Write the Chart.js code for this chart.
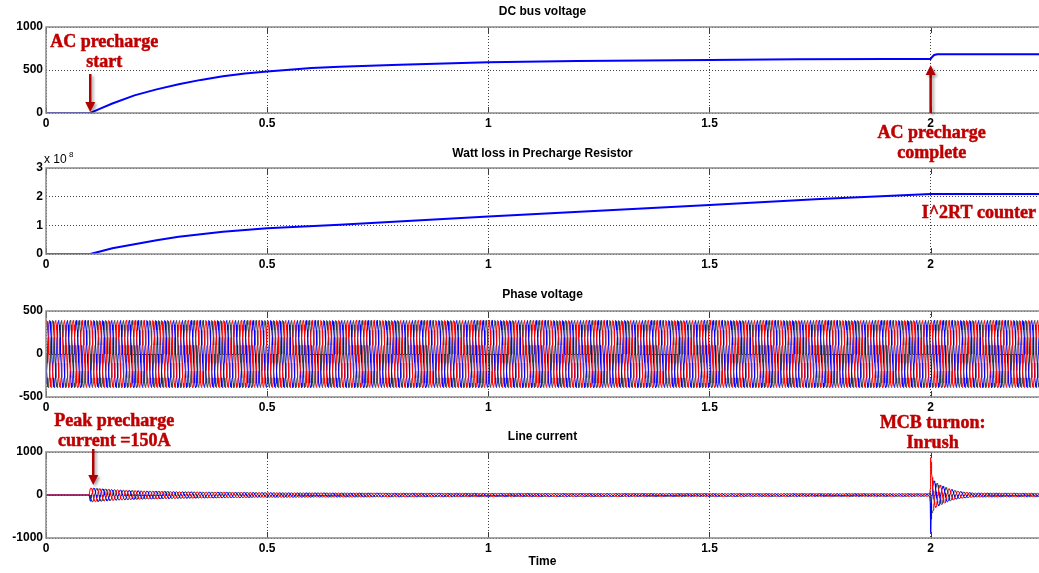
<!DOCTYPE html>
<html>
<head>
<meta charset="utf-8">
<script src="https://cdn.jsdelivr.net/npm/chart.js@4.4.1/dist/chart.umd.min.js"></script>
<style>
  html, body { margin: 0; padding: 0; background: #fff; }
  #page { position: relative; width: 1039px; height: 573px; overflow: hidden; }
  #page canvas { position: absolute; left: 0; }
  #overlay { top: 0; pointer-events: none; }
</style>
</head>
<body>
<div id="page">
  <canvas id="dcChart"></canvas>
  <canvas id="lossChart"></canvas>
  <canvas id="phaseChart"></canvas>
  <canvas id="currentChart"></canvas>
  <canvas id="overlay" width="1039" height="573"></canvas>
</div>
<script>
// ---- data ----
const timeTicks = [0, 0.5, 1, 1.5, 2];
const timeMax = 2.245;

// DC bus voltage (V)
const dcTime    = [0, 0.1, 0.12, 0.15, 0.2, 0.25, 0.3, 0.35, 0.4, 0.45, 0.5, 0.6, 0.664, 0.8, 0.9, 1.0, 1.2, 1.5, 1.7, 1.9, 2.0, 2.004, 2.008, 2.015, 2.245];
const dcVoltage = [0, 0, 45, 110, 205, 275, 335, 385, 428, 460, 483, 522, 538, 560, 577, 590, 604, 616, 624, 627, 628, 655, 675, 684, 684];
const dcTicks   = [0, 500, 1000];

// Watt loss in precharge resistor (x 10^8)
const lossTime  = [0, 0.1, 0.12, 0.15, 0.2, 0.25, 0.3, 0.4, 0.5, 0.664, 1.0, 1.25, 1.5, 1.75, 2.0, 2.245];
const lossValue = [0, 0, 0.08, 0.2, 0.34, 0.48, 0.6, 0.78, 0.9, 1.02, 1.31, 1.51, 1.71, 1.92, 2.09, 2.09];
const lossTicks = [0, 1, 2, 3];

// one 50 Hz cycle (per unit, 24 samples) and phase shifts in samples
const cycleTime   = 0.02;
const phaseCycle  = [0, 0.26, 0.5, 0.71, 0.87, 0.97, 1, 0.97, 0.87, 0.71, 0.5, 0.26,
                     0, -0.26, -0.5, -0.71, -0.87, -0.97, -1, -0.97, -0.87, -0.71, -0.5, -0.26];
const phaseShift  = [0, 16, 8];
const phaseStart  = 4;
const phaseColors = ['#ff0000', '#0000ff', '#33423d'];

// phase voltage
const phasePeak  = 390;
const phaseTicks = [-500, 0, 500];

// line current envelope (A)
const currentEnvTime = [0, 0.0999, 0.1, 0.15, 0.2, 0.3, 0.5, 0.8, 1.2, 1.6, 1.999, 2.0, 2.0017, 2.005, 2.01, 2.02, 2.04, 2.06, 2.08, 2.1, 2.245];
const currentEnvAmp  = [0, 0, 165, 125, 100, 75, 52, 42, 36, 33, 31, 1000, 560, 380, 300, 240, 150, 90, 60, 45, 40];
const currentTicks   = [-1000, 0, 1000];

// ---- helpers ----
function envAt(t, ts, vs) {
  for (let i = 1; i < ts.length; i++) {
    if (t <= ts[i]) {
      const f = (t - ts[i - 1]) / (ts[i] - ts[i - 1]);
      return vs[i - 1] + f * (vs[i] - vs[i - 1]);
    }
  }
  return vs[vs.length - 1];
}

function pairs(ts, vs) {
  return ts.map((t, i) => ({ x: t, y: vs[i] }));
}

// repeat the read cycle over the whole time span
function phaseSeries(k, scaleFn) {
  const n = phaseCycle.length;
  const dt = cycleTime / n;
  const pts = [];
  for (let i = 0; i * dt <= timeMax + 1e-9; i++) {
    const t = i * dt;
    const v = phaseCycle[(i + phaseStart + phaseShift[k]) % n];
    pts.push({ x: t, y: v * scaleFn(t) });
  }
  return pts;
}

const fontTick = { family: 'Liberation Sans, Arial, sans-serif', size: 12, weight: 'bold' };
const gridColor = 'rgba(0,0,0,0.75)';

// box, inner tick marks and panel title
const matlabAxes = {
  id: 'matlabAxes',
  afterDatasetsDraw(chart, args, opts) {
    const { ctx, chartArea: a, scales } = chart;
    ctx.save();
    ctx.strokeStyle = '#3c3c3c';
    ctx.lineWidth = 1;
    ctx.beginPath();
    timeTicks.forEach(v => {
      const px = Math.round(scales.x.getPixelForValue(v)) + 0.5;
      ctx.moveTo(px, a.bottom); ctx.lineTo(px, a.bottom - 6);
      ctx.moveTo(px, a.top); ctx.lineTo(px, a.top + 6);
    });
    ctx.stroke();
    ctx.strokeStyle = '#8a8a8a';
    ctx.lineWidth = 1.5;
    ctx.strokeRect(a.left, a.top, a.right - a.left + 2, a.bottom - a.top);
    ctx.fillStyle = '#000';
    ctx.font = 'bold 12px "Liberation Sans", Arial, sans-serif';
    ctx.textAlign = 'center';
    ctx.textBaseline = 'middle';
    ctx.fillText(opts.text, (a.left + a.right) / 2, a.top + opts.titleOffset);
    if (opts.exponent) {
      ctx.font = '12px "Liberation Sans", Arial, sans-serif';
      ctx.textAlign = 'left';
      ctx.fillText('x 10', a.left - 2, a.top - 8);
      ctx.font = '8px "Liberation Sans", Arial, sans-serif';
      ctx.fillText(opts.exponent, a.left + 23, a.top - 13);
    }
    ctx.restore();
  }
};

function makePanel(id, top, height, bottomH, datasets, yMin, yMax, yTicks, title, extra) {
  const canvas = document.getElementById(id);
  canvas.width = 1039;
  canvas.height = height;
  canvas.style.top = top + 'px';
  return new Chart(canvas, {
    type: 'line',
    data: { datasets },
    options: {
      responsive: false,
      animation: false,
      parsing: false,
      normalized: true,
      layout: { padding: { top: 27, left: 0, right: 0, bottom: 0 } },
      elements: { point: { radius: 0 }, line: { tension: 0 } },
      plugins: {
        legend: { display: false },
        tooltip: { enabled: false },
        title: { display: false },
        matlabAxes: Object.assign({ text: title, titleOffset: -15 }, extra || {})
      },
      scales: {
        x: {
          type: 'linear', min: 0, max: timeMax,
          afterBuildTicks: s => { s.ticks = timeTicks.map(v => ({ value: v })); },
          afterFit: s => { s.height = bottomH; },
          ticks: { color: '#000', font: fontTick, padding: 3, maxRotation: 0,
                   callback: v => String(v) },
          grid: { color: gridColor, lineWidth: 1, drawTicks: false },
          border: { display: false, dash: [1, 2] },
          title: extra && extra.xTitle ? { display: true, text: extra.xTitle, color: '#000', font: fontTick, padding: { top: 0 } } : { display: false }
        },
        y: {
          type: 'linear', min: yMin, max: yMax,
          afterBuildTicks: s => { s.ticks = yTicks.map(v => ({ value: v })); },
          afterFit: s => { s.width = 46; },
          ticks: { color: '#000', font: fontTick, padding: 3, callback: v => String(v) },
          grid: { color: gridColor, lineWidth: 1, drawTicks: false },
          border: { display: false, dash: [1, 2] }
        }
      }
    },
    plugins: [matlabAxes]
  });
}

const blueLine = (data) => ({ data, borderColor: '#0000ff', borderWidth: 2, fill: false });

const dcChart = makePanel('dcChart', 0, 141, 28,
  [blueLine(pairs(dcTime, dcVoltage))], 0, 1000, dcTicks, 'DC bus voltage');

const lossChart = makePanel('lossChart', 141, 141, 28,
  [blueLine(pairs(lossTime, lossValue))], 0, 3, lossTicks, 'Watt loss in Precharge Resistor',
  { exponent: '8', titleOffset: -14 });

const phaseChart = makePanel('phaseChart', 284, 141, 28,
  [0, 1, 2].map(k => ({ data: phaseSeries(k, () => phasePeak), borderColor: phaseColors[k], borderWidth: 1 })),
  -500, 500, phaseTicks, 'Phase voltage', { titleOffset: -16 });

const currentChart = makePanel('currentChart', 425, 148, 35,
  [0, 1, 2].map(k => ({ data: phaseSeries(k, t => envAt(t, currentEnvTime, currentEnvAmp)), borderColor: phaseColors[k], borderWidth: 1 })),
  -1000, 1000, currentTicks, 'Line current', { xTitle: 'Time' });

// ---- red annotations on top of the panels ----
const ov = document.getElementById('overlay').getContext('2d');
const annRed = '#c00000';
const annFont = 'bold 18px "Liberation Serif", "Times New Roman", serif';

function label(lines, cx, cy) {
  ov.save();
  ov.fillStyle = annRed;
  ov.strokeStyle = annRed;
  ov.lineWidth = 0.5;
  ov.font = annFont;
  ov.textAlign = 'center';
  ov.textBaseline = 'middle';
  lines.forEach((s, i) => { ov.fillText(s, cx, cy + i * 20); ov.strokeText(s, cx, cy + i * 20); });
  ov.restore();
}

function arrow(x, y0, y1) {
  // y1 is the tip
  const dir = y1 > y0 ? 1 : -1;
  ov.save();
  ov.shadowColor = 'rgba(0,0,0,0.35)';
  ov.shadowBlur = 3;
  ov.shadowOffsetX = 2;
  ov.shadowOffsetY = 2;
  ov.strokeStyle = '#b00000';
  ov.fillStyle = '#b00000';
  ov.lineWidth = 2.5;
  ov.beginPath();
  ov.moveTo(x, y0);
  ov.lineTo(x, y1 - dir * 9);
  ov.stroke();
  ov.beginPath();
  ov.moveTo(x - 5, y1 - dir * 10);
  ov.lineTo(x + 5, y1 - dir * 10);
  ov.lineTo(x, y1);
  ov.closePath();
  ov.fill();
  ov.restore();
}

function pagePoint(chart, xv, yv) {
  const top = parseFloat(chart.canvas.style.top);
  return { x: chart.scales.x.getPixelForValue(xv), y: top + chart.scales.y.getPixelForValue(yv) };
}

const startPt = pagePoint(dcChart, 0.1, 0);
label(['AC precharge', 'start'], startPt.x + 14, startPt.y - 71);
arrow(startPt.x, startPt.y - 39, startPt.y - 1);

const donePt = pagePoint(dcChart, 2.0, 628);
label(['AC precharge', 'complete'], donePt.x + 1, donePt.y + 74);
arrow(donePt.x, donePt.y + 54, donePt.y + 6);

const i2rPt = pagePoint(lossChart, 2.0, 2.09);
ov.save();
ov.fillStyle = annRed;
ov.strokeStyle = annRed;
ov.lineWidth = 0.5;
ov.font = annFont;
ov.textAlign = 'left';
ov.textBaseline = 'middle';
ov.fillText('I^2RT counter', i2rPt.x - 9, i2rPt.y + 19);
ov.strokeText('I^2RT counter', i2rPt.x - 9, i2rPt.y + 19);
ov.restore();

const peakPt = pagePoint(currentChart, 0.1, 0);
label(['Peak precharge', 'current =150A'], peakPt.x + 24, peakPt.y - 74);
arrow(peakPt.x + 3, peakPt.y - 46, peakPt.y - 10);

const mcbPt = pagePoint(currentChart, 2.0, 1000);
label(['MCB turnon:', 'Inrush'], mcbPt.x + 2, mcbPt.y - 29);
</script>
</body>
</html>
